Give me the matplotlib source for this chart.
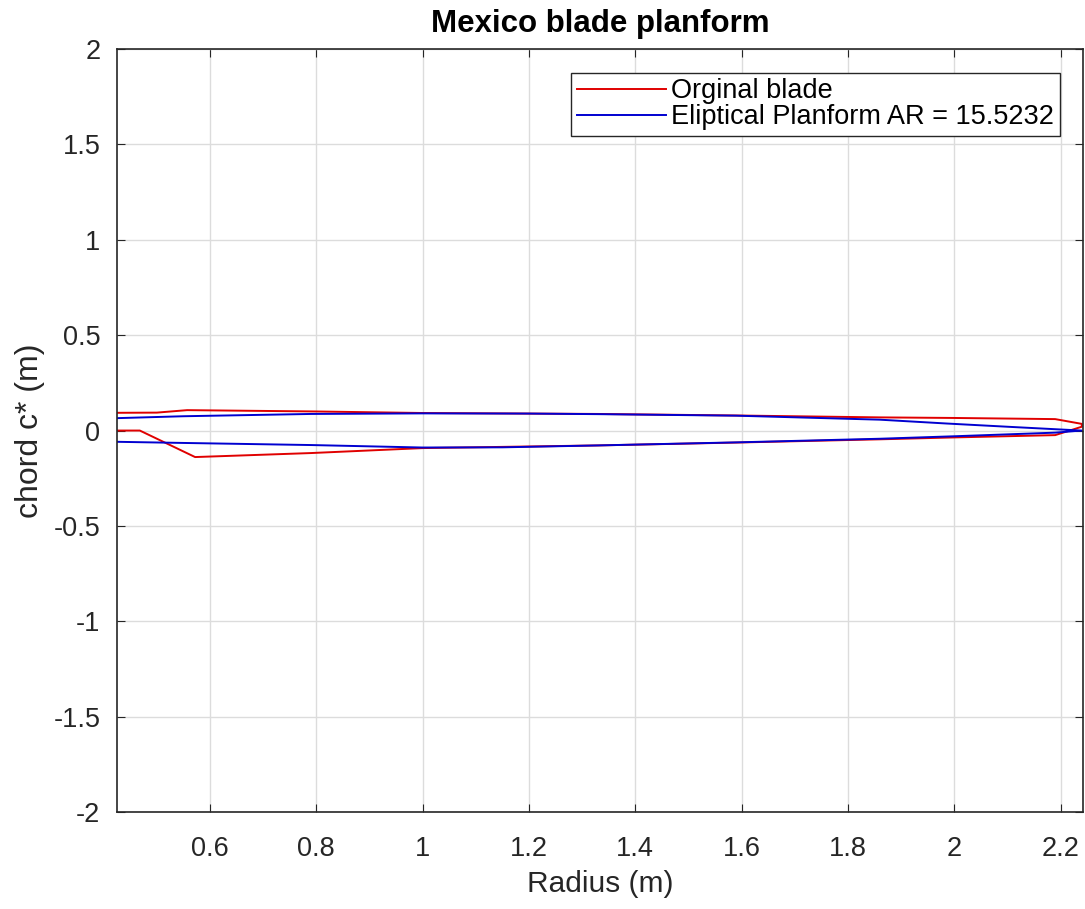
import numpy as np
import matplotlib
matplotlib.use('Agg')
import matplotlib.pyplot as plt

plt.rcParams['font.family'] = ['Liberation Sans', 'DejaVu Sans']

# original blade outline (upper edge then lower edge)
r_up = [0.425, 0.50, 0.557, 0.80, 1.0, 1.33, 1.59, 1.86, 2.0, 2.19, 2.24]
c_up = [0.093, 0.094, 0.107, 0.100, 0.092, 0.087, 0.079, 0.069, 0.066, 0.060, 0.035]
r_lo = [0.425, 0.468, 0.572, 0.79, 1.0, 1.33, 1.59, 1.86, 2.0, 2.19, 2.24]
c_lo = [0.0, 0.0, -0.139, -0.118, -0.092, -0.078, -0.063, -0.046, -0.036, -0.024, 0.02]

# elliptical planform
re_up = [0.425, 0.55, 0.79, 1.0, 1.2, 1.33, 1.59, 1.86, 1.985, 2.1, 2.19, 2.24]
ce_up = [0.065, 0.075, 0.087, 0.090, 0.089, 0.086, 0.078, 0.057, 0.037, 0.020, 0.007, 0.0]
re_lo = [0.425, 0.55, 0.79, 1.0, 1.15, 1.33, 1.59, 1.86, 2.0, 2.19, 2.24]
ce_lo = [-0.059, -0.065, -0.076, -0.089, -0.088, -0.078, -0.062, -0.043, -0.030, -0.011, 0.0]

AR = 15.5232

fig = plt.figure(figsize=(10.85, 9.09), dpi=100)
ax = fig.add_axes([0.1078, 0.1067, 0.8902, 0.8393])

ax.plot(r_up + r_lo[::-1], c_up + c_lo[::-1], color='#e00000', lw=1.4, label='Orginal blade')
ax.plot(re_up + re_lo[::-1], ce_up + ce_lo[::-1], color='#0000d0', lw=1.4,
        label='Eliptical Planform AR = ' + str(AR))

ax.set_xlim(0.425, 2.242)
ax.set_ylim(-2, 2)
ax.set_xticks([0.6, 0.8, 1, 1.2, 1.4, 1.6, 1.8, 2, 2.2])
ax.set_xticklabels(['0.6', '0.8', '1', '1.2', '1.4', '1.6', '1.8', '2', '2.2'])
ax.set_yticks([-2, -1.5, -1, -0.5, 0, 0.5, 1, 1.5, 2])
ax.set_yticklabels(['-2', '-1.5', '-1', '-0.5', '0', '0.5', '1', '1.5', '2'])
ax.grid(True, color='#dcdcdc', lw=1)
ax.tick_params(direction='in', top=True, right=True, labelsize=19.5, colors='#262626',
               length=6)
ax.tick_params(axis='x', pad=17)
ax.tick_params(axis='y', pad=12)
for s in ax.spines.values():
    s.set_color('#262626')
    s.set_linewidth(1.2)

ax.set_xlabel('Radius (m)', fontsize=21.5, color='#262626', labelpad=6)
ax.set_ylabel('chord c* (m)', fontsize=23, color='#262626', labelpad=6)
ax.set_title('Mexico blade planform', fontsize=22.5, fontweight='bold', pad=12)

ax.legend(loc='upper right', fontsize=19.5, fancybox=False, edgecolor='#262626',
          framealpha=1, borderpad=0.2, handlelength=3.3, handletextpad=0.2,
          labelspacing=0.0, borderaxespad=0, bbox_to_anchor=(0.976, 0.9686))

fig.savefig('out.png', dpi=100)
